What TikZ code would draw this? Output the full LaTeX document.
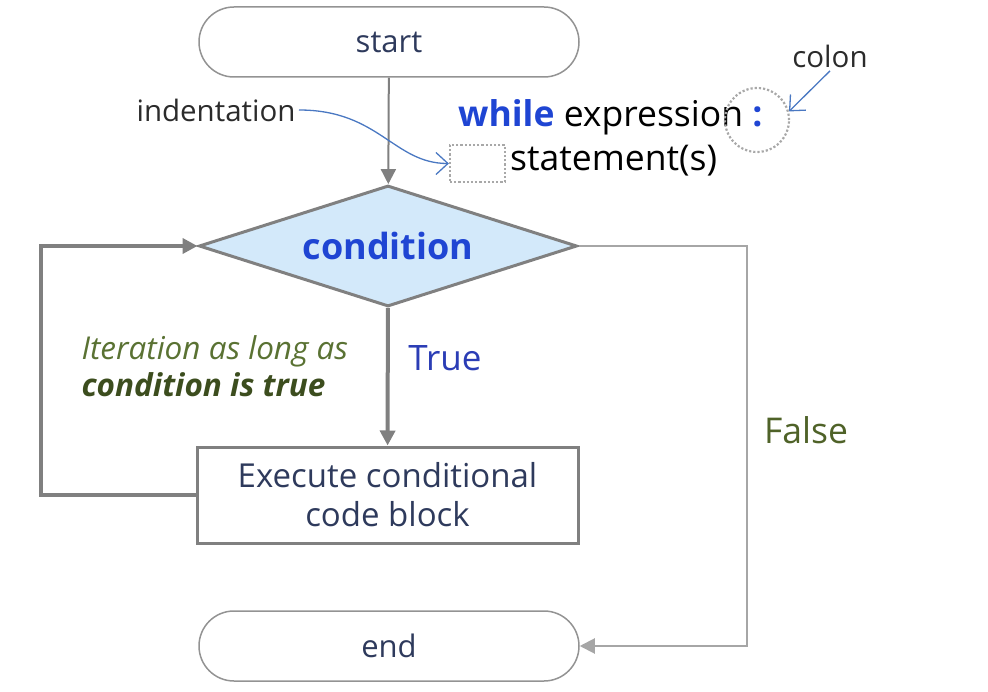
\documentclass[tikz,border=0pt]{standalone}
\usepackage{fontspec}
\setmainfont{Open Sans}
\usepackage{tikz}
\usetikzlibrary{arrows.meta,positioning,shapes.geometric}
\definecolor{fcInk}{HTML}{2E3A5C}
\definecolor{fcText}{HTML}{2B2B2B}
\definecolor{fcBlue}{HTML}{1F45D3}
\definecolor{fcTrue}{HTML}{2B3DB5}
\definecolor{fcOlive}{HTML}{5A7233}
\definecolor{fcOliveDark}{HTML}{3C4D1E}
\definecolor{fcFalse}{HTML}{4F6228}
\definecolor{fcLine}{HTML}{808080}
\definecolor{fcLight}{HTML}{A6A6A6}
\definecolor{fcFill}{HTML}{D3E9FA}
\definecolor{fcNote}{HTML}{4A78C2}
\definecolor{fcDot}{HTML}{A8A8A8}
\tikzset{
  fc diagram/.style={text=fcInk, line join=miter},
  fc terminal/.style={draw=fcLine!85, line width=1.5pt, rounded corners=35pt,
    minimum width=380pt, minimum height=70pt, font=\fontsize{31}{36}\selectfont},
  fc decision/.style={diamond, aspect=3.12, draw=fcLine, fill=fcFill, line width=3pt,
    minimum width=378pt, minimum height=121pt, inner sep=0pt,
    font=\fontsize{36}{40}\selectfont\bfseries, text=fcBlue},
  fc block/.style={draw=fcLine, line width=3pt, minimum width=381pt,
    minimum height=96pt, align=center, font=\fontsize{33}{39}\selectfont},
  fc flow/.style={-{Triangle[length=15pt,width=15pt]}, draw=fcLine, line width=2pt},
  fc loop/.style={fc flow, line width=4pt},
  fc false/.style={fc flow, draw=fcLight},
  fc note arrow/.style={-{Straight Barb[length=12pt,width=22pt]}, draw=fcNote, line width=1.3pt},
  fc dotted/.style={draw=fcDot, line width=2.2pt, dotted},
  fc label/.style={font=\fontsize{29.5}{34}\selectfont},
  fc code/.style={font=\fontsize{35.5}{40}\selectfont, text=black, inner sep=0pt}
}
\begin{document}
\begin{tikzpicture}[fc diagram,x=1pt,y={(0pt,-1pt)}]
\useasboundingbox (0,0) rectangle (988,692);
% flow chart
\node[fc terminal] (start) at (389,42) {start};
\node[fc decision] (cond) at (388,246) {condition};
\node[fc block] (block) at (387.5,495) {Execute conditional\\code block};
\node[fc terminal] (end) at (389,646) {end};
\draw[fc flow] (start) -- (cond);
\draw[fc loop] (cond) -- (block);
\draw[fc loop] (block.west) -- ++(-155,0) |- (cond.west);
\draw[fc false] (cond.east) -- ++(168,0) |- (end.east);
\node[fc label, font=\fontsize{35}{40}\selectfont, text=fcTrue] (true) at (445,358) {True};
\node[fc label, font=\fontsize{35.5}{40}\selectfont, text=fcFalse] (false) at (806,430) {False};
\node[fc label, font=\fontsize{31.5}{37}\selectfont, anchor=west, align=left, text=fcOlive] (iter) at (78,366)
  {\itshape Iteration as long as\\\color{fcOliveDark}\bfseries\itshape condition is true};
% syntax note
\node[fc code, anchor=west] (whileline) at (458,117)
  {{\bfseries\color{fcBlue}while} expression {\bfseries\color{fcBlue}:}};
\node[fc code, anchor=west] (stmt) at (510,161) {statement(s)};
\node[fc dotted, minimum width=55pt, minimum height=37pt, inner sep=0pt] (indentbox) at (477.5,163.5) {};
\node[fc dotted, circle, minimum size=64pt, inner sep=0pt] (colonring) at (757,120) {};
\node[fc label, text=fcText] (indent) at (216,110) {indentation};
\node[fc label, text=fcText] (colon) at (830,56) {colon};
\draw[fc note arrow] (indent.east) .. controls +(80,0) and +(-55,0) .. (indentbox.west);
\draw[fc note arrow] (colon.south) -- (colonring.15);
\end{tikzpicture}
\end{document}
